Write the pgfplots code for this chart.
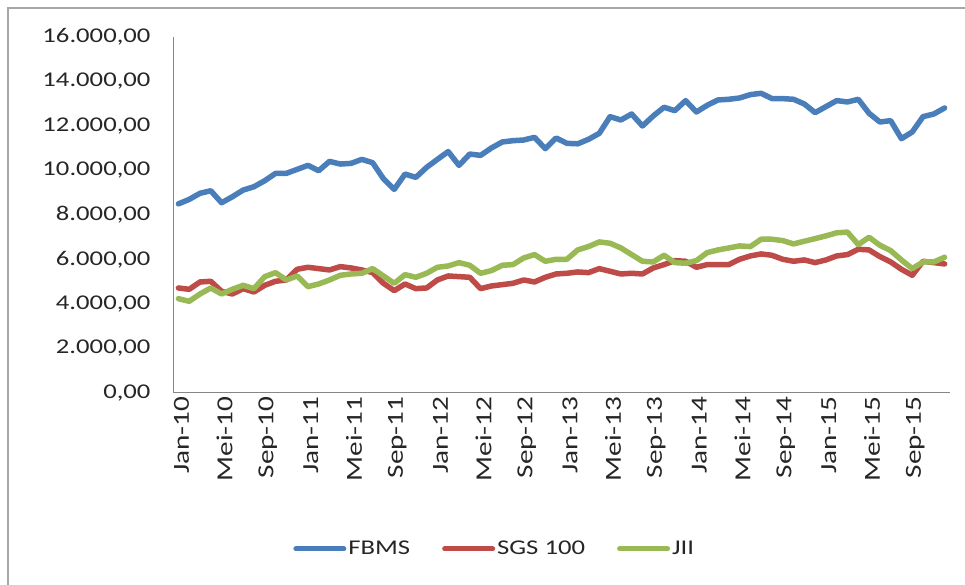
\documentclass[border=0pt]{standalone}
\usepackage{pgfplots}
\pgfplotsset{compat=1.18}
\usepackage{pgfplotstable}
\usepackage{fontspec}
\setmainfont{Carlito}
\newfontfamily\tickfont[FakeStretch=1.27]{Carlito}
\definecolor{cB}{RGB}{74,126,187}
\definecolor{cR}{RGB}{190,75,72}
\definecolor{cG}{RGB}{152,185,84}
\definecolor{axgray}{RGB}{134,134,134}

\pgfplotstableread{
i fbms sgs jii
0 8500 4720 4240
1 8700 4660 4120
2 8975 4990 4450
3 9090 5020 4720
4 8550 4570 4450
5 8820 4450 4660
6 9120 4690 4840
7 9270 4540 4690
8 9540 4840 5230
9 9870 5020 5410
10 9870 5080 5080
11 10050 5560 5260
12 10230 5650 4780
13 9990 5590 4900
14 10410 5530 5080
15 10290 5680 5290
16 10320 5620 5350
17 10500 5530 5380
18 10350 5410 5590
19 9630 4930 5260
20 9150 4600 4930
21 9840 4900 5320
22 9690 4690 5200
23 10140 4720 5380
24 10500 5080 5650
25 10850 5260 5710
26 10230 5230 5860
27 10740 5200 5740
28 10680 4690 5380
29 11010 4810 5500
30 11280 4870 5740
31 11340 4930 5770
32 11370 5080 6070
33 11490 4990 6220
34 10980 5200 5920
35 11460 5350 6010
36 11220 5380 6010
37 11200 5440 6430
38 11400 5410 6580
39 11670 5590 6790
40 12420 5470 6730
41 12270 5350 6520
42 12540 5380 6220
43 12000 5350 5920
44 12450 5620 5890
45 12840 5770 6190
46 12690 5950 5860
47 13140 5920 5830
48 12630 5650 5950
49 12930 5770 6310
50 13170 5770 6430
51 13200 5770 6520
52 13260 6010 6610
53 13410 6160 6580
54 13470 6250 6910
55 13230 6190 6910
56 13230 6010 6850
57 13200 5920 6700
58 12990 5980 6820
59 12600 5860 6940
60 12870 5980 7060
61 13140 6160 7200
62 13080 6220 7230
63 13200 6460 6670
64 12570 6430 7000
65 12180 6130 6640
66 12240 5890 6400
67 11430 5560 5980
68 11730 5290 5590
69 12420 5920 5890
70 12540 5860 5890
71 12810 5800 6100
}\data

\begin{document}
\begin{tikzpicture}
\useasboundingbox (0,0) rectangle (965pt,585pt);
\draw[black!35, line width=1.5pt] (8pt,0pt) -- (8pt,577pt) -- (965pt,577pt);
\begin{axis}[
  at={(173pt,192pt)}, anchor=south west,
  scale only axis, width=777pt, height=356pt,
  xmin=-0.5, xmax=71.5, ymin=0, ymax=16000,
  axis x line*=bottom, axis y line*=left,
  axis line style={axgray, line width=1pt, -},
  major tick length=0pt,
  xtick={0,4,...,68},
  xticklabels={Jan-10,Mei-10,Sep-10,Jan-11,Mei-11,Sep-11,Jan-12,Mei-12,Sep-12,Jan-13,Mei-13,Sep-13,Jan-14,Mei-14,Sep-14,Jan-15,Mei-15,Sep-15},
  ytick={0,2000,...,16000},
  scaled y ticks=false,
  yticklabel style={/pgf/number format/fixed, /pgf/number format/fixed zerofill, /pgf/number format/precision=2, /pgf/number format/use comma, /pgf/number format/1000 sep={.}, /pgf/number format/assume math mode=true},
  yticklabel style={font=\tickfont\fontsize{21}{25}\selectfont, text=black!85, xshift=-19pt},
  xticklabel style={font=\tickfont\fontsize{23}{27}\selectfont, text=black!85, rotate=90, anchor=east, yshift=-3pt},
  legend style={draw=none, fill=none, at={(0.414,-0.438)}, anchor=center, legend columns=3, font=\tickfont\fontsize{21}{25}\selectfont, text=black!85, /tikz/every even column/.append style={column sep=30pt}},
  legend image code/.code={\draw[#1, line width=5pt] (0pt,0pt) -- (48pt,0pt);},
]
\addplot[cB, line width=5.5pt, line join=round, line cap=round] table[x=i, y=fbms]{\data};
\addlegendentry{FBMS}
\addplot[cR, line width=5.5pt, line join=round, line cap=round] table[x=i, y=sgs]{\data};
\addlegendentry{SGS 100}
\addplot[cG, line width=5.5pt, line join=round, line cap=round] table[x=i, y=jii]{\data};
\addlegendentry{JII}
\end{axis}
\end{tikzpicture}
\end{document}
